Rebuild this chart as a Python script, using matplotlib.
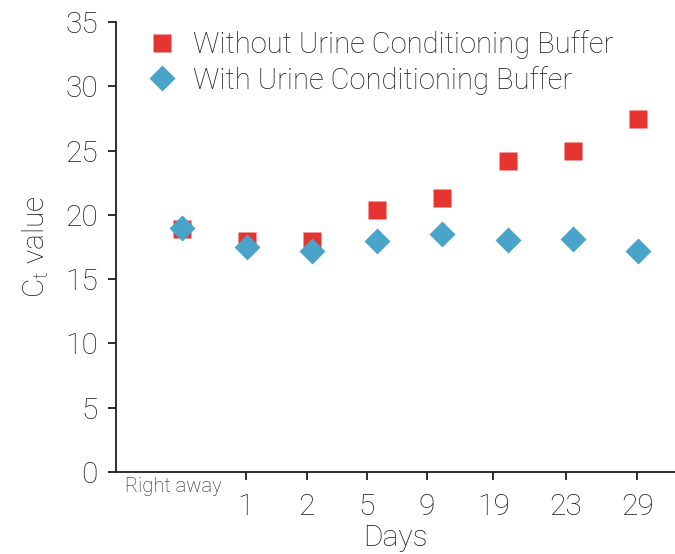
import matplotlib
matplotlib.use("Agg")
import matplotlib.pyplot as plt

categories = ["Right away", "1", "2", "5", "9", "19", "23", "29"]
without_buffer = [18.9, 18.0, 18.0, 20.35, 21.3, 24.2, 24.95, 27.45]
with_buffer = [18.95, 17.5, 17.2, 17.95, 18.55, 18.05, 18.1, 17.2]
tick_labels = ["1", "2", "5", "9", "19", "23", "29"]
tick_positions = [0.98, 1.92, 2.84, 3.76, 4.78, 5.89, 6.99]

fam = "Roboto"
plt.rcParams["font.family"] = [fam, "DejaVu Sans"]
plt.rcParams["font.weight"] = "light"
plt.rcParams["axes.labelweight"] = "light"
plt.rcParams["mathtext.fontset"] = "custom"
plt.rcParams["mathtext.rm"] = f"{fam}:light"
plt.rcParams["mathtext.it"] = f"{fam}:light"

RED = "#E63530"
BLUE = "#4AA3C9"
TXT = "#1e1e1e"

fig = plt.figure(figsize=(6.75, 5.54), dpi=100)
ax = fig.add_axes([116/675, 1-472/554, (675-116)/675, (472-22)/554])

x = list(range(len(categories)))
ax.plot(x, without_buffer, "s", color=RED, ms=13, mec="none",
        label="Without Urine Conditioning Buffer", zorder=3)
ax.plot(x, with_buffer, "D", color=BLUE, ms=13.5, mec="none",
        label="With Urine Conditioning Buffer", zorder=4)

ax.set_xlim(-1.01, 7.57)
ax.set_ylim(0, 35)
ax.set_yticks(range(0, 36, 5))
ax.set_xticks(tick_positions)
ax.set_xticklabels(tick_labels)
for s in ["top", "right"]:
    ax.spines[s].set_visible(False)
for s in ["left", "bottom"]:
    ax.spines[s].set_color(TXT)
    ax.spines[s].set_linewidth(1.3)
ax.tick_params(axis="both", direction="out", length=6, width=1.3, colors=TXT,
               labelsize=21.5, labelcolor=TXT)
ax.tick_params(axis="x", pad=9)
ax.tick_params(axis="y", pad=7)

ax.text(-0.13, -1.15, categories[0], ha="center", va="center", fontsize=14.5,
        color=TXT, transform=ax.transData)

ax.set_xlabel("Days", fontsize=21.5, color=TXT, labelpad=2)
ax.set_ylabel("C$_\\mathrm{t}$ value", fontsize=21.5, color=TXT, labelpad=10)

leg = ax.legend(loc="upper left", bbox_to_anchor=(0.056, 0.982), frameon=False,
                fontsize=21, handletextpad=0.55, labelspacing=0.23,
                handlelength=1.0, borderaxespad=0, borderpad=0)
for t in leg.get_texts():
    t.set_color(TXT)

fig.savefig("out.png", dpi=100)
